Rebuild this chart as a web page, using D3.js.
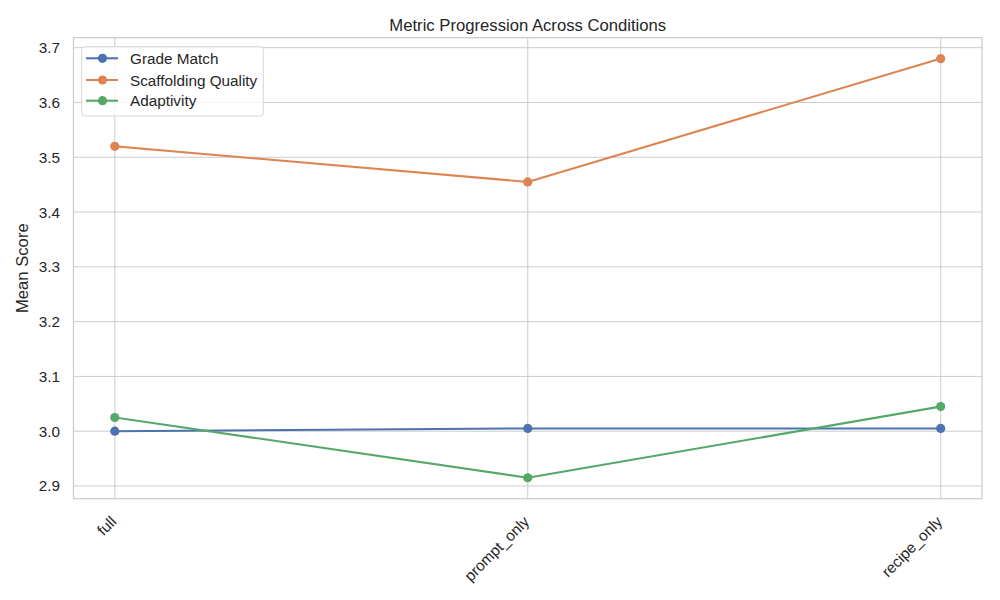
<!DOCTYPE html>
<html>
<head>
<meta charset="utf-8">
<script src="https://cdn.jsdelivr.net/npm/d3@7"></script>
<style>
  html, body { margin: 0; padding: 0; background: #fff; }
  svg text { font-family: "Liberation Sans", Arial, sans-serif; fill: #262626; }
</style>
</head>
<body>
<svg id="chart" width="1000" height="600"></svg>
<script>
const categories = ["full", "prompt_only", "recipe_only"];
const seriesNames = ["Grade Match", "Scaffolding Quality", "Adaptivity"];
const gradeMatch = [3.0, 3.005, 3.005];
const scaffoldingQuality = [3.52, 3.455, 3.68];
const adaptivity = [3.025, 2.915, 3.045];
const yTicks = [2.9, 3.0, 3.1, 3.2, 3.3, 3.4, 3.5, 3.6, 3.7];
const colors = ["#4C72B0", "#DD8452", "#55A868"];

const title = "Metric Progression Across Conditions";
const yLabel = "Mean Score";

const series = [
  { name: seriesNames[0], values: gradeMatch, color: colors[0] },
  { name: seriesNames[1], values: scaffoldingQuality, color: colors[1] },
  { name: seriesNames[2], values: adaptivity, color: colors[2] }
];

const svg = d3.select("#chart");
const pL = 73.5, pR = 982, pT = 37.7, pB = 498.7;

// matplotlib-like 5% margins
const allVals = series.flatMap(s => s.values);
const vmin = d3.min(allVals), vmax = d3.max(allVals);
const pad = (vmax - vmin) * 0.05;
const y = d3.scaleLinear().domain([vmin - pad, vmax + pad]).range([pB, pT]);
const xIdx = d3.scaleLinear().domain([-0.1, categories.length - 1 + 0.1]).range([pL, pR]);
const x = c => xIdx(categories.indexOf(c));

const g = svg.append("g");

// grid
g.selectAll("line.hgrid").data(yTicks).enter().append("line")
  .attr("x1", pL).attr("x2", pR)
  .attr("y1", d => y(d)).attr("y2", d => y(d))
  .attr("stroke", "#cccccc").attr("stroke-width", 1);
g.selectAll("line.vgrid").data(categories).enter().append("line")
  .attr("x1", d => x(d)).attr("x2", d => x(d))
  .attr("y1", pT).attr("y2", pB)
  .attr("stroke", "#cccccc").attr("stroke-width", 1);

// spines
g.append("rect").attr("x", pL).attr("y", pT)
  .attr("width", pR - pL).attr("height", pB - pT)
  .attr("fill", "none").attr("stroke", "#cccccc").attr("stroke-width", 1.25);

// y tick labels
g.selectAll("text.ytick").data(yTicks).enter().append("text")
  .attr("x", 60).attr("y", d => y(d)).attr("dy", "0.36em")
  .attr("text-anchor", "end").attr("font-size", "15.3px")
  .text(d => d3.format(".1f")(d));

// x tick labels
g.selectAll("text.xtick").data(categories).enter().append("text")
  .attr("transform", d => `translate(${x(d) + 2.5},${pB + 24}) rotate(-45)`)
  .attr("text-anchor", "end").attr("font-size", "15.3px")
  .text(d => d);

// lines
const line = d3.line().x((d, i) => xIdx(i)).y(d => y(d));
series.forEach(s => {
  const sg = g.append("g");
  sg.append("path").datum(s.values).attr("d", line)
    .attr("fill", "none").attr("stroke", s.color).attr("stroke-width", 2.08)
    .attr("stroke-linejoin", "round").attr("stroke-linecap", "square");
  sg.selectAll("circle").data(s.values).enter().append("circle")
    .attr("cx", (d, i) => xIdx(i)).attr("cy", d => y(d)).attr("r", 4.6)
    .attr("fill", s.color);
});

// title
svg.append("text").attr("x", (pL + pR) / 2).attr("y", 31)
  .attr("text-anchor", "middle").attr("font-size", "16.67px").text(title);

// y label
svg.append("text").attr("transform", `translate(27.5,${(pT + pB) / 2}) rotate(-90)`)
  .attr("text-anchor", "middle").attr("font-size", "16.67px").text(yLabel);

// legend
const lg = svg.append("g");
lg.append("rect").attr("x", 81.7).attr("y", 46.7).attr("width", 181.6).attr("height", 69.3)
  .attr("rx", 3).attr("fill", "rgba(255,255,255,0.8)").attr("stroke", "#d6d6d6").attr("stroke-width", 1);
const rowY = [58.3, 80, 100.7];
series.forEach((s, i) => {
  lg.append("line").attr("x1", 86).attr("x2", 118).attr("y1", rowY[i]).attr("y2", rowY[i])
    .attr("stroke", s.color).attr("stroke-width", 2.08);
  lg.append("circle").attr("cx", 102.5).attr("cy", rowY[i]).attr("r", 4.6).attr("fill", s.color);
  lg.append("text").attr("x", 130).attr("y", rowY[i]).attr("dy", "0.36em")
    .attr("font-size", "15.3px").text(s.name);
});
</script>
</body>
</html>
